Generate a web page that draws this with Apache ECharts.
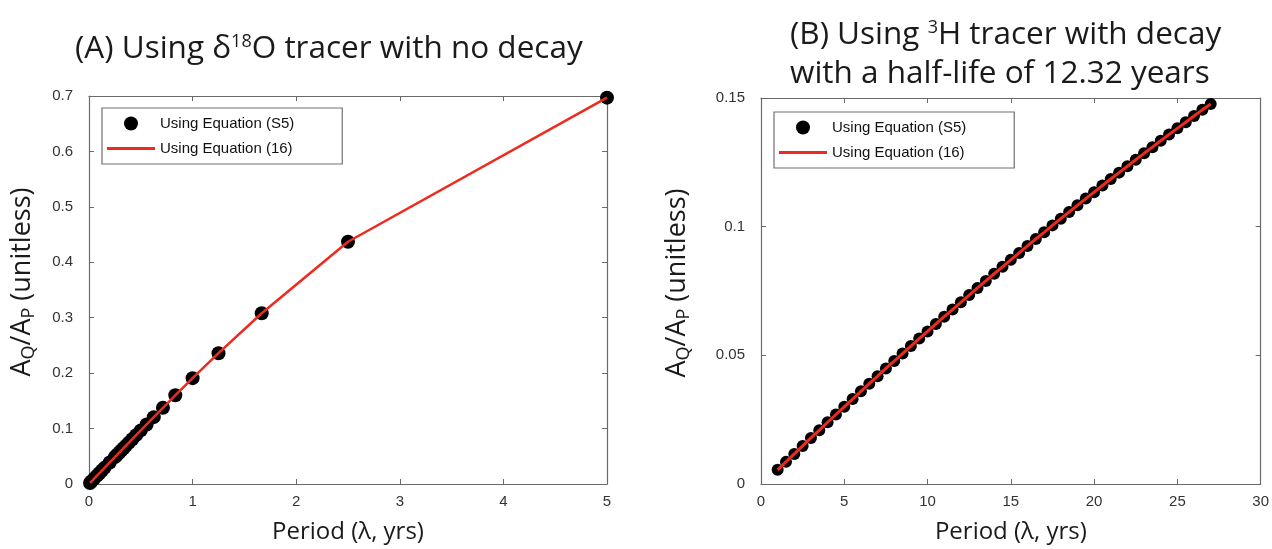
<!DOCTYPE html>
<html>
<head>
<meta charset="utf-8">
<script src="https://cdn.jsdelivr.net/npm/echarts@6/dist/echarts.min.js"></script>
<style>
  html, body { margin: 0; padding: 0; background: #fff; }
  #chart { width: 1272px; height: 549px; }
</style>
</head>
<body>
<div id="chart"></div>
<script>
// (A) delta-18O, no decay: period (yrs) and amplitude ratio
const periodA = [5, 2.5, 1.667, 1.25, 1, 0.833, 0.714, 0.625, 0.556, 0.5, 0.455, 0.417, 0.385,
  0.357, 0.333, 0.3125, 0.294, 0.278, 0.263, 0.25, 0.2, 0.15, 0.125, 0.1, 0.075, 0.05, 0.025, 0.01];
const ratioA = [0.697, 0.437, 0.308, 0.236, 0.191, 0.160, 0.1375, 0.1206, 0.1074, 0.0967, 0.0881,
  0.0808, 0.0746, 0.0692, 0.0646, 0.0606, 0.0571, 0.0539, 0.0510, 0.0485, 0.0389, 0.0291, 0.0243,
  0.0194, 0.0146, 0.0097, 0.0049, 0.0019];

// (B) tritium with decay
const periodB = [1, 1.5, 2, 2.5, 3, 3.5, 4, 4.5, 5, 5.5, 6, 6.5, 7, 7.5, 8, 8.5, 9, 9.5, 10, 10.5,
  11, 11.5, 12, 12.5, 13, 13.5, 14, 14.5, 15, 15.5, 16, 16.5, 17, 17.5, 18, 18.5, 19, 19.5, 20,
  20.5, 21, 21.5, 22, 22.5, 23, 23.5, 24, 24.5, 25, 25.5, 26, 26.5, 27];
const ratioB = [0.0055, 0.0086, 0.0117, 0.0148, 0.0179, 0.0209, 0.0240, 0.0270, 0.0300, 0.0330,
  0.0360, 0.0390, 0.0419, 0.0449, 0.0478, 0.0507, 0.0536, 0.0565, 0.0593, 0.0622, 0.0650, 0.0678,
  0.0706, 0.0734, 0.0762, 0.0789, 0.0817, 0.0844, 0.0871, 0.0898, 0.0925, 0.0952, 0.0978, 0.1005,
  0.1031, 0.1057, 0.1083, 0.1109, 0.1134, 0.1160, 0.1185, 0.1210, 0.1235, 0.1260, 0.1285, 0.1309,
  0.1334, 0.1358, 0.1382, 0.1406, 0.1430, 0.1454, 0.1477];

const seriesNames = ['Using Equation (S5)', 'Using Equation (16)'];
const titleA = '{t|(A) Using δ}{s|18}{t|O tracer with no decay}';
const titleB = '{t|(B) Using }{s|3}{t|H tracer with decay}\n{t|with a half-life of 12.32 years}';
const xName = 'Period (λ, yrs)';
const yName = '{n|A}{b|Q}{n|/A}{b|P}{n| (unitless)}';

const FONT = '"Open Sans", "Noto Sans", sans-serif';
const TICK_FONT = '"Liberation Sans", Arial, sans-serif';
const RED = '#ee2a1e';
const AXIS = '#6a6a6a';
// short thick line for the legend, bbox = 48 x 14
const LINE_ICON = 'path://M0,0L0.01,0L0.01,0.01Z M0,5.5L48,5.5L48,8.5L0,8.5Z M47.99,14L48,14L48,13.99Z';

const pair = (xs, ys) => xs.map((x, i) => [x, ys[i]]);

const titleRich = {
  t: { fontSize: 31.5, fontFamily: FONT, fontWeight: 'normal', color: '#1a1a1a', lineHeight: 39 },
  s: { fontSize: 18, fontFamily: FONT, fontWeight: 'normal', color: '#1a1a1a', lineHeight: 39, verticalAlign: 'top', padding: [3, 0, 0, 0] }
};

const nameRich = {
  n: { fontSize: 27, fontFamily: FONT, color: '#1a1a1a' },
  b: { fontSize: 18, fontFamily: FONT, color: '#1a1a1a', verticalAlign: 'bottom', padding: [13, 0, 0, 0] }
};

function xAxes(gridIndex, max, interval) {
  const base = {
    gridIndex, type: 'value', min: 0, max, interval,
    splitLine: { show: false },
    axisLine: { onZero: false, lineStyle: { color: AXIS, width: 1.2 } },
    axisTick: { inside: true, length: 5, lineStyle: { color: AXIS } }
  };
  return [
    Object.assign({}, base, {
      position: 'bottom',
      name: xName, nameLocation: 'middle', nameGap: 36,
      nameTextStyle: { fontSize: 24, fontFamily: FONT, color: '#1a1a1a' },
      axisLabel: { margin: 10, fontSize: 15, fontFamily: TICK_FONT, color: '#333' }
    }),
    Object.assign({}, base, { position: 'top', axisLabel: { show: false } })
  ];
}

function yAxes(gridIndex, max, interval, nameGap) {
  const base = {
    gridIndex, type: 'value', min: 0, max, interval,
    splitLine: { show: false },
    axisLine: { onZero: false, lineStyle: { color: AXIS, width: 1.2 } },
    axisTick: { inside: true, length: 5, lineStyle: { color: AXIS } }
  };
  return [
    Object.assign({}, base, {
      position: 'left',
      name: yName, nameLocation: 'middle', nameGap,
      nameTextStyle: { rich: nameRich, padding: [0, 0, 0, 16] },
      axisLabel: { margin: 16, fontSize: 15, fontFamily: TICK_FONT, color: '#333' }
    }),
    Object.assign({}, base, { position: 'right', axisLabel: { show: false } })
  ];
}

function legend(left, top) {
  return {
    left, top, orient: 'vertical',
    data: [
      { name: seriesNames[0], icon: 'circle' },
      { name: seriesNames[1], icon: LINE_ICON, itemStyle: { color: RED } }
    ],
    itemWidth: 48, itemHeight: 14, itemGap: 10,
    padding: [8, 48, 8, 5],
    borderColor: '#707070', borderWidth: 1.2,
    backgroundColor: '#fff',
    textStyle: { fontSize: 15, fontFamily: TICK_FONT, color: '#111' }
  };
}

const chart = echarts.init(document.getElementById('chart'));

const xsA = xAxes(0, 5, 1), xsB = xAxes(1, 30, 5);
const ysA = yAxes(0, 0.7, 0.1, 51), ysB = yAxes(1, 0.15, 0.05, 68);

chart.setOption({
  animation: false,
  backgroundColor: '#fff',
  title: [
    { text: titleA, left: 75, top: 30, padding: 0, textStyle: { rich: titleRich } },
    { text: titleB, left: 790, top: 16, padding: 0, textStyle: { rich: titleRich } }
  ],
  legend: [legend(102, 108), legend(774, 112)],
  grid: [
    { left: 89, top: 96, width: 518, height: 393 },
    { left: 761, top: 98, width: 506, height: 392 }
  ],
  xAxis: xsA.concat(xsB),
  yAxis: ysA.concat(ysB),
  series: [
    {
      name: seriesNames[0], type: 'scatter', xAxisIndex: 0, yAxisIndex: 0,
      data: pair(periodA, ratioA), symbolSize: 14, clip: false, z: 2,
      itemStyle: { color: '#000', opacity: 1 }
    },
    {
      name: seriesNames[1], type: 'line', xAxisIndex: 0, yAxisIndex: 0,
      data: pair(periodA, ratioA), symbol: 'none', clip: false, z: 3,
      lineStyle: { color: RED, width: 2.5 }, itemStyle: { color: RED }
    },
    {
      name: seriesNames[0], type: 'scatter', xAxisIndex: 2, yAxisIndex: 2,
      data: pair(periodB, ratioB), symbolSize: 12, clip: false, z: 2,
      itemStyle: { color: '#000', opacity: 1 }
    },
    {
      name: seriesNames[1], type: 'line', xAxisIndex: 2, yAxisIndex: 2,
      data: pair(periodB, ratioB), symbol: 'none', clip: false, z: 3,
      lineStyle: { color: RED, width: 3 }, itemStyle: { color: RED }
    }
  ]
});
</script>
</body>
</html>
